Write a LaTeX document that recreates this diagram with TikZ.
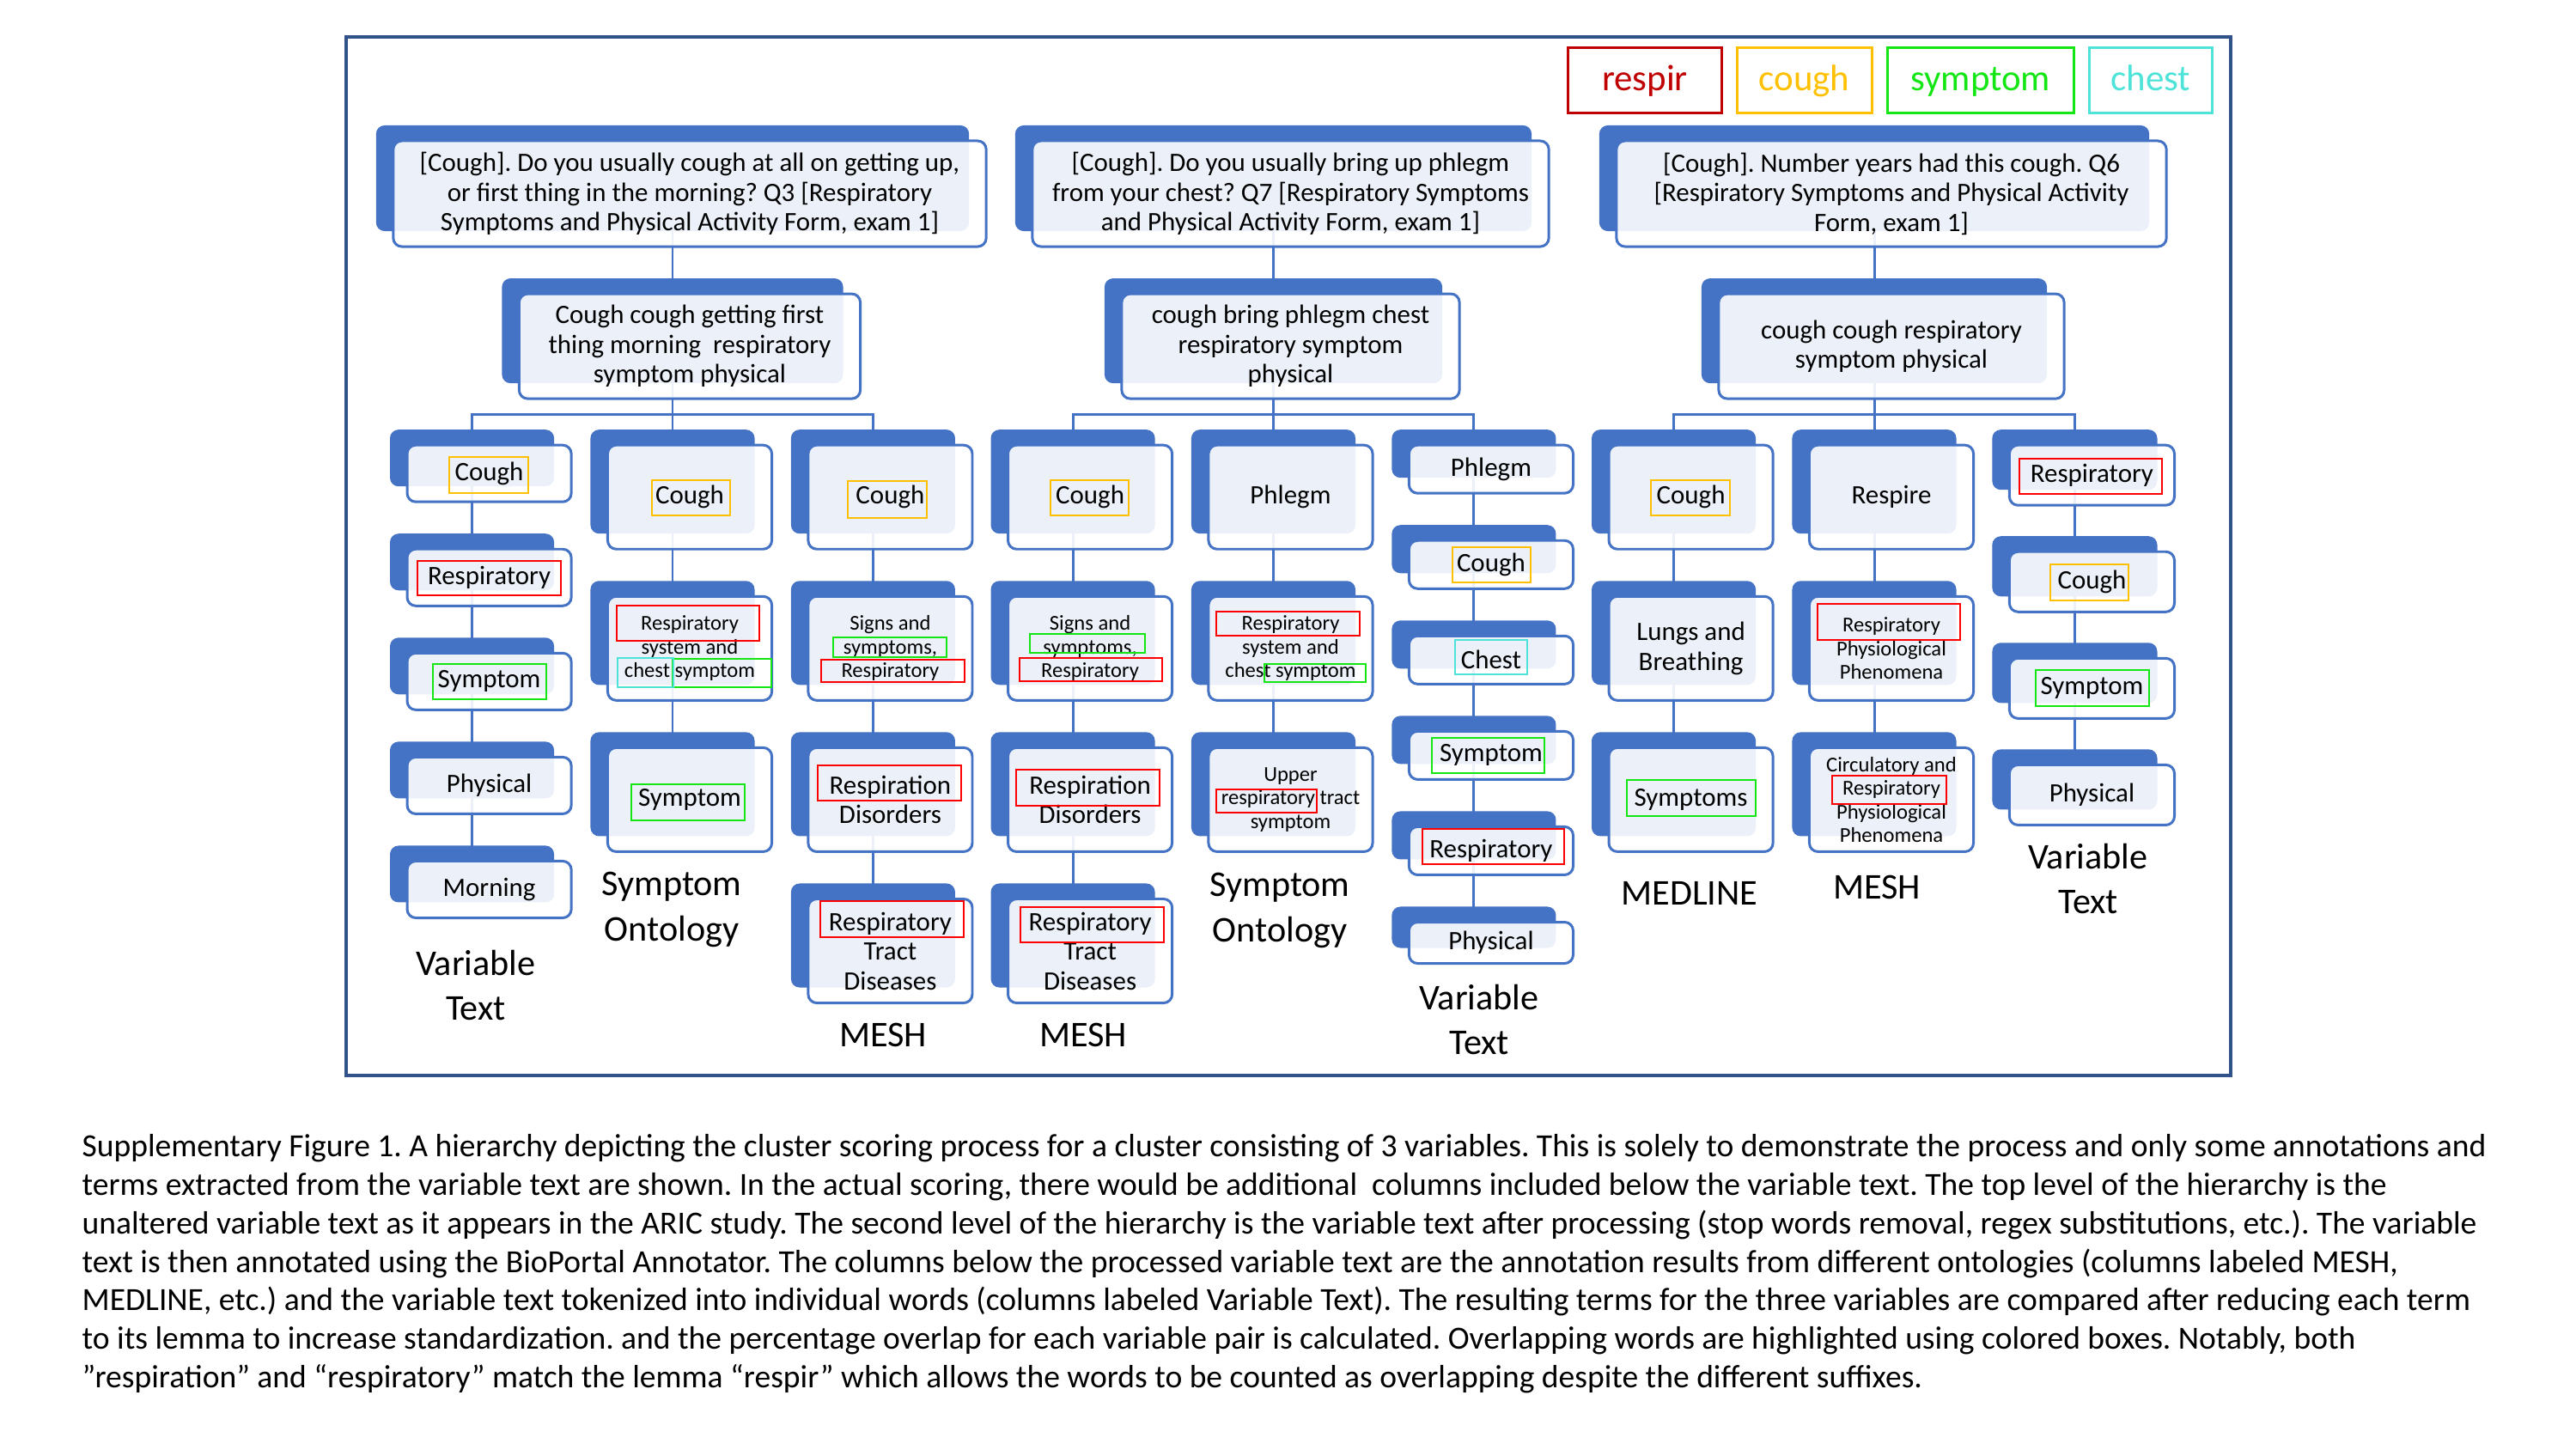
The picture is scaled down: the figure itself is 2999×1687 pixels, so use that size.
\documentclass[tikz,border=0pt]{standalone}
\usepackage{fontspec}
\setmainfont{Carlito}
\frenchspacing
\usetikzlibrary{positioning,shadows,backgrounds}
\definecolor{tblue}{RGB}{68,114,196}
\definecolor{frameblue}{RGB}{50,82,140}
\definecolor{hlred}{RGB}{255,0,0}
\definecolor{darkred}{RGB}{192,0,0}
\definecolor{hlorange}{RGB}{255,192,0}
\definecolor{hlgreen}{RGB}{20,230,20}
\definecolor{hlcyan}{RGB}{78,227,216}
\tikzset{
  basic/.style  = {draw=tblue, line width=0.85pt, rounded corners=1mm, fill=white,
    fill opacity=0.9, text opacity=1, align=center, inner sep=0pt, outer sep=0pt,
    font=\fontsize{8.8}{9.8}\selectfont,
    general shadow={fill=tblue, fill opacity=1, shadow xshift=-2mm, shadow yshift=1.8mm}},
  question/.style = {basic, minimum height=1.23cm},
  clean/.style  = {basic, minimum height=1.22cm},
  term/.style   = {basic, minimum width=1.91cm, minimum height=1.21cm},
  word/.style   = {basic, minimum width=1.91cm, minimum height=0.66cm},
  shortword/.style = {basic, minimum width=1.91cm, minimum height=0.56cm},
  tallword/.style  = {basic, minimum width=1.92cm, minimum height=0.70cm},
  small/.style  = {font=\fontsize{7}{7.8}\selectfont},
  link/.style   = {draw=tblue, line width=0.85pt},
  hl/.style     = {line width=0.8pt},
  colname/.style = {align=center, font=\fontsize{12}{15}\selectfont},
  key/.style    = {draw, line width=0.85pt, minimum height=0.75cm, inner sep=0pt, outer sep=0pt,
    text height=0.85em, text depth=0.17em, font=\fontsize{12.2}{14}\selectfont}
}

\begin{document}
\begin{tikzpicture}[x=0.01cm, y=-0.01cm]
\useasboundingbox (0,0) rectangle (2999,1687);
\draw[frameblue, line width=1.3pt] (403,43) rectangle (2597,1252);

% legend
\node[key, draw=darkred, text=darkred, minimum width=1.78cm] (krespir) at (1915,93.5) {respir};
\node[key, draw=hlorange, text=hlorange, minimum width=1.57cm, right=0.18cm of krespir] (kcough) {cough};
\node[key, draw=hlgreen, text=hlgreen, minimum width=2.17cm, right=0.18cm of kcough] (ksymptom) {symptom};
\node[key, draw=hlcyan, text=hlcyan, minimum width=1.43cm, right=0.18cm of ksymptom] (kchest) {chest};

% variable Q3
\node[question, minimum width=6.9cm] (ta) at (803,225.5) {[Cough]. Do you usually cough at all on getting up,\\
  or first thing in the morning? Q3 [Respiratory\\ Symptoms and Physical Activity Form, exam 1]};
\node[clean, minimum width=3.97cm, below=0.55cm of ta] (la) {Cough cough getting first\\ thing morning~ respiratory\\ symptom physical};
\node[word, below=0.54cm of la, xshift=-2.333cm] (va1) {Cough};
\node[word, below=0.55cm of va1] (va2) {Respiratory};
\node[word, below=0.55cm of va2] (va3) {Symptom};
\node[word, below=0.55cm of va3] (va4) {Physical};
\node[word, below=0.55cm of va4] (va5) {Morning};
\node[term, below=0.54cm of la] (sa1) {Cough};
\node[term, small, below=0.55cm of sa1] (sa2) {Respiratory\\ system and\\ chest symptom};
\node[term, below=0.55cm of sa2] (sa3) {Symptom};
\node[term, below=0.54cm of la, xshift=2.333cm] (ma1) {Cough};
\node[term, small, below=0.55cm of ma1] (ma2) {Signs and\\ symptoms,\\ Respiratory};
\node[term, below=0.55cm of ma2] (ma3) {Respiration\\ Disorders};
\node[term, below=0.55cm of ma3] (ma4) {Respiratory\\ Tract\\ Diseases};

% variable Q7
\node[question, minimum width=6.01cm] (tb) at (1502.5,225.5) {[Cough]. Do you usually bring up phlegm\\
  from your chest? Q7 [Respiratory Symptoms\\ and Physical Activity Form, exam 1]};
\node[clean, minimum width=3.93cm, below=0.55cm of tb] (lb) {cough bring phlegm chest\\ respiratory symptom\\ physical};
\node[term, below=0.54cm of lb, xshift=-2.333cm] (mb1) {Cough};
\node[term, small, below=0.55cm of mb1] (mb2) {Signs and\\ symptoms,\\ Respiratory};
\node[term, below=0.55cm of mb2] (mb3) {Respiration\\ Disorders};
\node[term, below=0.55cm of mb3] (mb4) {Respiratory\\ Tract\\ Diseases};
\node[term, below=0.54cm of lb] (sb1) {Phlegm};
\node[term, small, below=0.55cm of sb1] (sb2) {Respiratory\\ system and\\ chest symptom};
\node[term, small, below=0.55cm of sb2] (sb3) {Upper\\ respiratory tract\\ symptom};
\node[shortword, below=0.54cm of lb, xshift=2.333cm] (vb1) {Phlegm};
\node[shortword, below=0.55cm of vb1] (vb2) {Cough};
\node[shortword, below=0.55cm of vb2] (vb3) {Chest};
\node[shortword, below=0.55cm of vb3] (vb4) {Symptom};
\node[shortword, below=0.55cm of vb4] (vb5) {Respiratory};
\node[shortword, minimum height=0.48cm, below=0.55cm of vb5] (vb6) {Physical};

% variable Q6
\node[question, minimum width=6.4cm] (tc) at (2202,225.5) {[Cough]. Number years had this cough. Q6\\
  {[}Respiratory Symptoms and Physical Activity\\ Form, exam 1]};
\node[clean, minimum width=4.02cm, below=0.55cm of tc] (lc) {cough cough respiratory\\ symptom physical};
\node[term, below=0.54cm of lc, xshift=-2.333cm] (dc1) {Cough};
\node[term, below=0.55cm of dc1] (dc2) {Lungs and\\ Breathing};
\node[term, below=0.55cm of dc2] (dc3) {Symptoms};
\node[term, below=0.54cm of lc] (mc1) {Respire};
\node[term, small, below=0.55cm of mc1] (mc2) {Respiratory\\ Physiological\\ Phenomena};
\node[term, small, below=0.55cm of mc2] (mc3) {Circulatory and\\ Respiratory\\ Physiological\\ Phenomena};
\node[tallword, below=0.54cm of lc, xshift=2.333cm] (vc1) {Respiratory};
\node[tallword, below=0.54cm of vc1] (vc2) {Cough};
\node[tallword, below=0.54cm of vc2] (vc3) {Symptom};
\node[tallword, below=0.54cm of vc3] (vc4) {Physical};

% column names
\node[colname] (vaname) at (554,1147) {Variable\\ Text};
\node[colname] (saname) at (782,1059) {Symptom\\ Ontology};
\node[colname] (maname) at (1028,1205) {MESH};
\node[colname] (mbname) at (1261,1205) {MESH};
\node[colname] (sbname) at (1490,1060) {Symptom\\ Ontology};
\node[colname] (vbname) at (1722,1187) {Variable\\ Text};
\node[colname] (dcname) at (1967,1040) {MEDLINE};
\node[colname] (mcname) at (2185,1033) {MESH};
\node[colname] (vcname) at (2431,1023) {Variable\\ Text};

% connectors
\begin{scope}[on background layer]
\foreach \t/\l in {ta/la, tb/lb, tc/lc}
  \draw[link] ([xshift=-2mm]\t.center) -- ([xshift=-2mm]\l.center);
\foreach \l/\f/\m/\r in {la/va1/sa1/ma1, lb/mb1/sb1/vb1, lc/dc1/mc1/vc1} {
  \draw[link] ([xshift=-2mm]\f.center) |- ([yshift=-1.8mm]\l.south) -| ([xshift=-2mm]\r.center);
  \draw[link] ([xshift=-2mm]\l.center) -- ([xshift=-2mm]\m.center);
}
\foreach \c/\n in {va/5, sa/3, ma/4, mb/4, sb/3, vb/6, dc/3, mc/3, vc/4}
  \draw[link] ([xshift=-2mm]\c1.center) -- ([xshift=-2mm]\c\n.center);
\end{scope}

% overlap boxes
\foreach \xa/\ya/\xb/\yb in {523/532/615/574, 759/559/850/600, 987/560/1079/603, 1223/559/1314/600,
  1691/637/1782/678, 1922/559/2014/600, 2387/657/2478/699}
  \draw[hl, hlorange] (\xa,\ya) rectangle (\xb,\yb);
\foreach \xa/\ya/\xb/\yb in {486/653/653/693, 718/705/884/746, 956/768/1123/794, 952/891/1119/932,
  955/1049/1122/1091, 1187/766/1353/793, 1183/896/1350/938, 1188/1056/1355/1097, 1416/712/1583/740,
  1416/919/1533/946, 1656/965/1821/1006, 2116/703/2282/745, 2133/903/2266/936, 2351/534/2517/575}
  \draw[hl, hlred] (\xa,\ya) rectangle (\xb,\yb);
\foreach \xa/\ya/\xb/\yb in {504/773/636/814, 783/767/898/800, 735/913/867/955, 970/742/1102/765,
  1199/738/1333/760, 1472/773/1590/794, 1667/859/1798/900, 1894/908/2044/950, 2370/780/2502/822}
  \draw[hl, hlgreen] (\xa,\ya) rectangle (\xb,\yb);
\foreach \xa/\ya/\xb/\yb in {719/766/784/800, 1694/745/1778/785}
  \draw[hl, hlcyan] (\xa,\ya) rectangle (\xb,\yb);

% caption
\node[anchor=north west, inner sep=0pt, align=left, font=\fontsize{10.68}{12.72}\selectfont] (caption) at (95,1320) {%
Supplementary Figure 1. A hierarchy depicting the cluster scoring process for a cluster consisting of 3 variables. This is solely to demonstrate the process and only some annotations and\\
terms extracted from the variable text are shown. In the actual scoring, there would be additional~ columns included below the variable text. The top level of the hierarchy is the\\
unaltered variable text as it appears in the ARIC study. The second level of the hierarchy is the variable text after processing (stop words removal, regex substitutions, etc.). The variable\\
text is then annotated using the BioPortal Annotator. The columns below the processed variable text are the annotation results from different ontologies (columns labeled MESH,\\
MEDLINE, etc.) and the variable text tokenized into individual words (columns labeled Variable Text). The resulting terms for the three variables are compared after reducing each term\\
to its lemma to increase standardization. and the percentage overlap for each variable pair is calculated. Overlapping words are highlighted using colored boxes. Notably, both\\
”respiration” and “respiratory” match the lemma “respir” which allows the words to be counted as overlapping despite the different suffixes.};
\end{tikzpicture}
\end{document}
